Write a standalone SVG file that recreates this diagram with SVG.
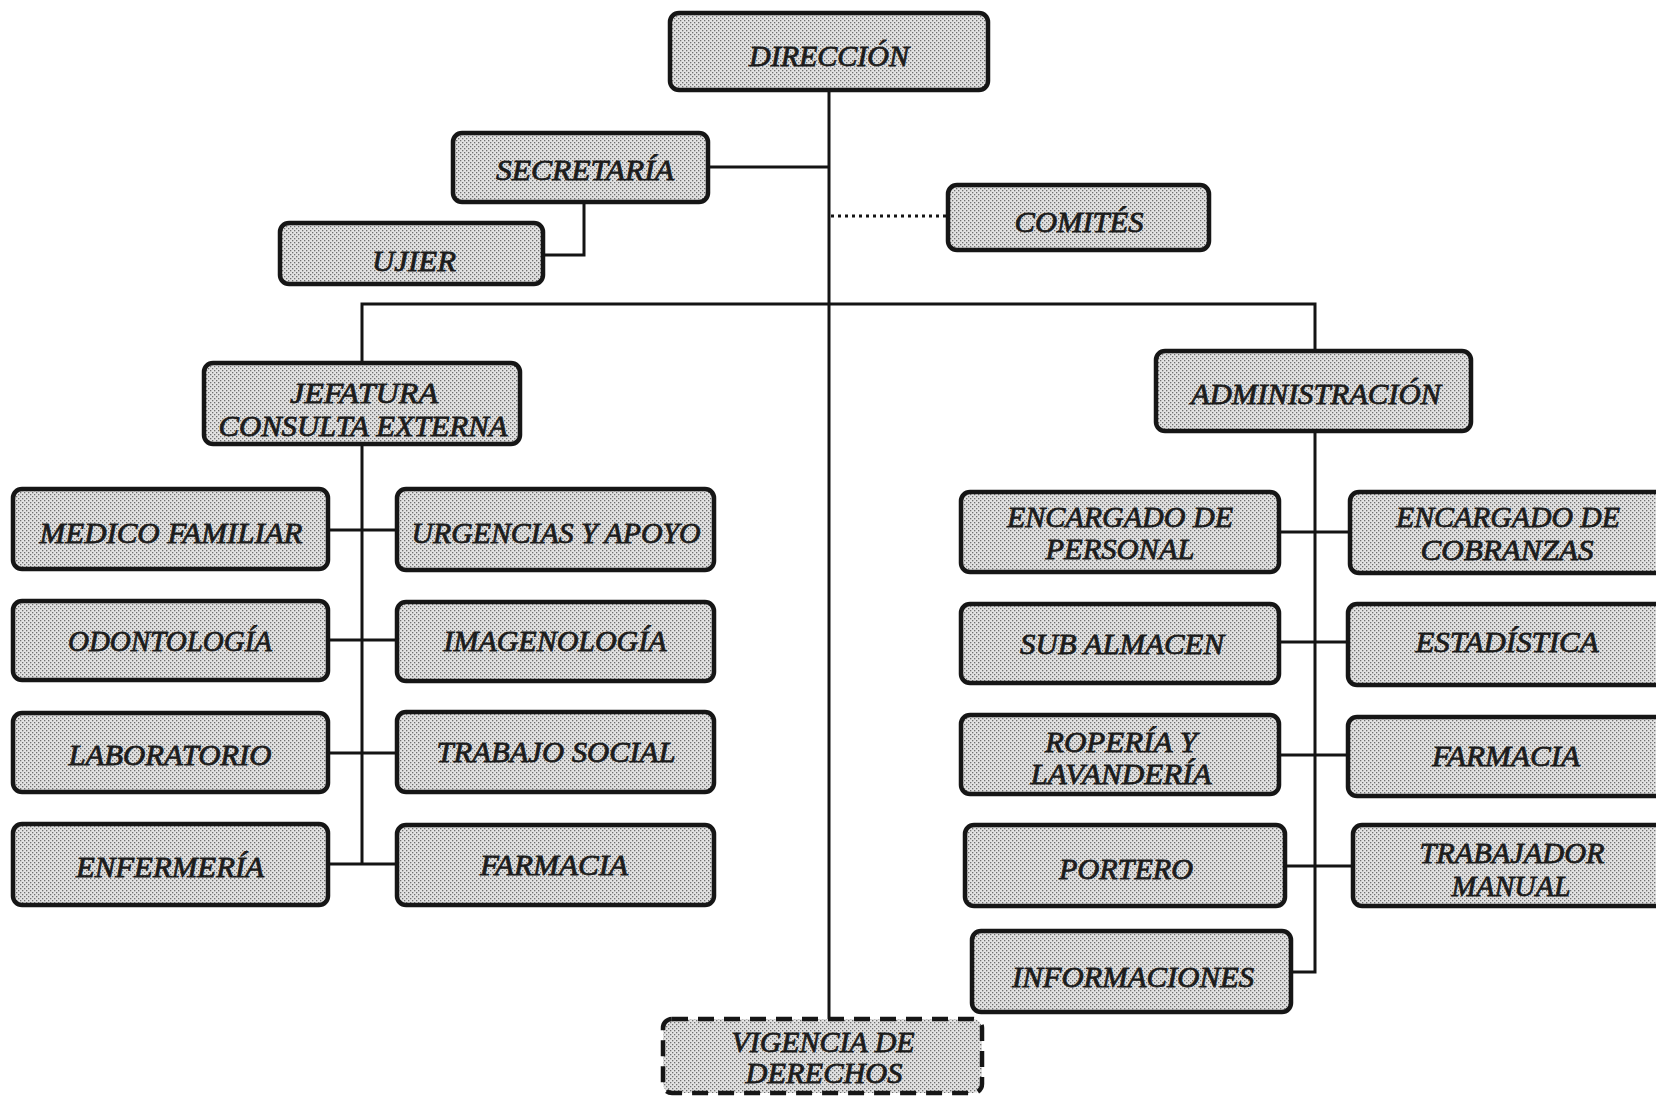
<svg xmlns="http://www.w3.org/2000/svg" width="1656" height="1096" viewBox="0 0 1656 1096">
<defs>
<pattern id="dots" width="4" height="4" patternUnits="userSpaceOnUse">
<rect width="4" height="4" fill="#e2e2e2"/>
<rect x="0" y="0" width="1.3" height="1.3" fill="#6f6f6f"/>
<rect x="2" y="2" width="1.3" height="1.3" fill="#6f6f6f"/>
</pattern>
<style>
.box{fill:url(#dots);stroke:#161616;stroke-width:4.5}
.dash{stroke-dasharray:16 10}
.t{font-family:"Liberation Serif","Times New Roman",serif;font-style:italic;font-size:30px;fill:#1c1c1c;stroke:#1c1c1c;stroke-width:0.8}
.ln{stroke:#141414;stroke-width:3;fill:none}
.dot{stroke:#141414;stroke-width:3;fill:none;stroke-dasharray:3 4}
</style>
</defs>
<rect width="1656" height="1096" fill="#ffffff"/>
<g id="connectors">
<line class="ln" x1="829" y1="90" x2="829" y2="1019"/>
<line class="ln" x1="708" y1="167" x2="829" y2="167"/>
<polyline class="ln" points="584,202 584,255 543,255"/>
<line class="dot" x1="831" y1="216" x2="948" y2="216"/>
<polyline class="ln" points="362,363 362,304 1315,304 1315,351"/>
<line class="ln" x1="362" y1="444" x2="362" y2="864"/>
<line class="ln" x1="328" y1="530" x2="397" y2="530"/>
<line class="ln" x1="328" y1="640" x2="397" y2="640"/>
<line class="ln" x1="328" y1="753" x2="397" y2="753"/>
<line class="ln" x1="328" y1="864" x2="397" y2="864"/>
<polyline class="ln" points="1315,431 1315,972 1291,972"/>
<line class="ln" x1="1279" y1="532" x2="1350" y2="532"/>
<line class="ln" x1="1279" y1="642" x2="1348" y2="642"/>
<line class="ln" x1="1279" y1="755" x2="1348" y2="755"/>
<line class="ln" x1="1285" y1="866" x2="1353" y2="866"/>
</g>
<g id="direccion"><rect class="box" x="670" y="13" width="318" height="77" rx="9"/><text class="t" x="829" y="66" text-anchor="middle" textLength="160" lengthAdjust="spacingAndGlyphs">DIRECCIÓN</text></g>
<g id="secretaria"><rect class="box" x="453" y="133" width="255" height="69" rx="9"/><text class="t" x="585" y="180" text-anchor="middle" textLength="178" lengthAdjust="spacingAndGlyphs">SECRETARÍA</text></g>
<g id="ujier"><rect class="box" x="280" y="223" width="263" height="61" rx="9"/><text class="t" x="414" y="271" text-anchor="middle" textLength="84" lengthAdjust="spacingAndGlyphs">UJIER</text></g>
<g id="comites"><rect class="box" x="948" y="185" width="261" height="65" rx="9"/><text class="t" x="1079" y="232" text-anchor="middle" textLength="129" lengthAdjust="spacingAndGlyphs">COMITÉS</text></g>
<g id="jefatura"><rect class="box" x="204" y="363" width="316" height="81" rx="9"/><text class="t" x="364" y="403" text-anchor="middle" textLength="148" lengthAdjust="spacingAndGlyphs">JEFATURA</text><text class="t" x="363" y="436" text-anchor="middle" textLength="289" lengthAdjust="spacingAndGlyphs">CONSULTA EXTERNA</text></g>
<g id="administracion"><rect class="box" x="1156" y="351" width="315" height="80" rx="9"/><text class="t" x="1316" y="404" text-anchor="middle" textLength="250" lengthAdjust="spacingAndGlyphs">ADMINISTRACIÓN</text></g>
<g id="medico-familiar"><rect class="box" x="13" y="489" width="315" height="80" rx="9"/><text class="t" x="171" y="543" text-anchor="middle" textLength="263" lengthAdjust="spacingAndGlyphs">MEDICO FAMILIAR</text></g>
<g id="urgencias"><rect class="box" x="397" y="489" width="317" height="81" rx="9"/><text class="t" x="556" y="543" text-anchor="middle" textLength="289" lengthAdjust="spacingAndGlyphs">URGENCIAS Y APOYO</text></g>
<g id="odontologia"><rect class="box" x="13" y="601" width="315" height="79" rx="9"/><text class="t" x="170" y="651" text-anchor="middle" textLength="204" lengthAdjust="spacingAndGlyphs">ODONTOLOGÍA</text></g>
<g id="imagenologia"><rect class="box" x="397" y="602" width="317" height="79" rx="9"/><text class="t" x="555" y="651" text-anchor="middle" textLength="223" lengthAdjust="spacingAndGlyphs">IMAGENOLOGÍA</text></g>
<g id="laboratorio"><rect class="box" x="13" y="713" width="315" height="79" rx="9"/><text class="t" x="170" y="765" text-anchor="middle" textLength="203" lengthAdjust="spacingAndGlyphs">LABORATORIO</text></g>
<g id="trabajo-social"><rect class="box" x="397" y="712" width="317" height="80" rx="9"/><text class="t" x="556" y="762" text-anchor="middle" textLength="239" lengthAdjust="spacingAndGlyphs">TRABAJO SOCIAL</text></g>
<g id="enfermeria"><rect class="box" x="13" y="824" width="315" height="81" rx="9"/><text class="t" x="170" y="877" text-anchor="middle" textLength="188" lengthAdjust="spacingAndGlyphs">ENFERMERÍA</text></g>
<g id="farmacia-ce"><rect class="box" x="397" y="825" width="317" height="80" rx="9"/><text class="t" x="554" y="875" text-anchor="middle" textLength="148" lengthAdjust="spacingAndGlyphs">FARMACIA</text></g>
<g id="encargado-personal"><rect class="box" x="961" y="492" width="318" height="80" rx="9"/><text class="t" x="1120" y="527" text-anchor="middle" textLength="226" lengthAdjust="spacingAndGlyphs">ENCARGADO DE</text><text class="t" x="1120" y="559" text-anchor="middle" textLength="149" lengthAdjust="spacingAndGlyphs">PERSONAL</text></g>
<g id="encargado-cobranzas"><rect class="box" x="1350" y="492" width="330" height="81" rx="9"/><text class="t" x="1508" y="527" text-anchor="middle" textLength="224" lengthAdjust="spacingAndGlyphs">ENCARGADO DE</text><text class="t" x="1507" y="560" text-anchor="middle" textLength="173" lengthAdjust="spacingAndGlyphs">COBRANZAS</text></g>
<g id="sub-almacen"><rect class="box" x="961" y="604" width="318" height="79" rx="9"/><text class="t" x="1122" y="654" text-anchor="middle" textLength="204" lengthAdjust="spacingAndGlyphs">SUB ALMACEN</text></g>
<g id="estadistica"><rect class="box" x="1348" y="604" width="332" height="81" rx="9"/><text class="t" x="1507" y="652" text-anchor="middle" textLength="183" lengthAdjust="spacingAndGlyphs">ESTADÍSTICA</text></g>
<g id="roperia"><rect class="box" x="961" y="715" width="318" height="79" rx="9"/><text class="t" x="1121" y="752" text-anchor="middle" textLength="152" lengthAdjust="spacingAndGlyphs">ROPERÍA Y</text><text class="t" x="1121" y="784" text-anchor="middle" textLength="181" lengthAdjust="spacingAndGlyphs">LAVANDERÍA</text></g>
<g id="farmacia-adm"><rect class="box" x="1348" y="717" width="332" height="79" rx="9"/><text class="t" x="1506" y="766" text-anchor="middle" textLength="148" lengthAdjust="spacingAndGlyphs">FARMACIA</text></g>
<g id="portero"><rect class="box" x="965" y="825" width="320" height="81" rx="9"/><text class="t" x="1126" y="879" text-anchor="middle" textLength="134" lengthAdjust="spacingAndGlyphs">PORTERO</text></g>
<g id="trabajador-manual"><rect class="box" x="1353" y="825" width="327" height="81" rx="9"/><text class="t" x="1512" y="863" text-anchor="middle" textLength="185" lengthAdjust="spacingAndGlyphs">TRABAJADOR</text><text class="t" x="1511" y="896" text-anchor="middle" textLength="119" lengthAdjust="spacingAndGlyphs">MANUAL</text></g>
<g id="informaciones"><rect class="box" x="972" y="931" width="319" height="81" rx="9"/><text class="t" x="1133" y="987" text-anchor="middle" textLength="242" lengthAdjust="spacingAndGlyphs">INFORMACIONES</text></g>
<g id="vigencia"><rect class="box dash" x="663" y="1019" width="319" height="74" rx="9"/><text class="t" x="823" y="1052" text-anchor="middle" textLength="183" lengthAdjust="spacingAndGlyphs">VIGENCIA DE</text><text class="t" x="824" y="1083" text-anchor="middle" textLength="157" lengthAdjust="spacingAndGlyphs">DERECHOS</text></g>
</svg>
